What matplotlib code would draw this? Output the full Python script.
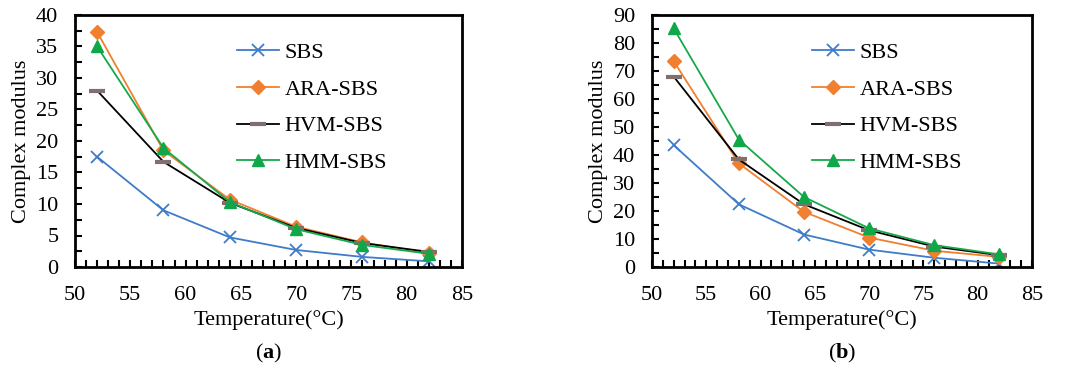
import matplotlib
matplotlib.use("Agg")
import matplotlib.pyplot as plt
from matplotlib.ticker import MultipleLocator

plt.rcParams['font.family'] = ['Liberation Serif', 'DejaVu Serif']
plt.rcParams['mathtext.fontset'] = 'custom'
plt.rcParams['mathtext.bf'] = 'Liberation Serif:bold'
plt.rcParams['mathtext.rm'] = 'Liberation Serif'

temperature = [52, 58, 64, 70, 76, 82]
series_names = ["SBS", "ARA-SBS", "HVM-SBS", "HMM-SBS"]

# panel (a)
a_sbs = [17.5, 9.0, 4.7, 2.7, 1.6, 0.9]
a_ara = [37.3, 18.5, 10.7, 6.4, 3.9, 2.2]
a_hvm = [28.0, 16.7, 10.2, 6.2, 3.8, 2.4]
a_hmm = [35.0, 18.9, 10.3, 6.0, 3.5, 2.1]

# panel (b)
b_sbs = [43.5, 22.4, 11.6, 6.2, 3.3, 1.2]
b_ara = [73.5, 37.0, 19.7, 10.5, 5.8, 3.6]
b_hvm = [68.0, 38.4, 22.4, 13.1, 7.3, 4.2]
b_hmm = [85.2, 45.5, 25.0, 13.8, 7.8, 4.5]

styles = [
    dict(color='#3F7CC8', marker='x', markersize=9, mew=1.3, mec='#3F7CC8'),
    dict(color='#F08030', marker='D', markersize=7, mfc='#F08030', mec='#F08030'),
    dict(color='black', marker='_', markersize=11, mew=3, mec='#7F6F6F'),
    dict(color='#16A84A', marker='^', markersize=9, mfc='#0FA848', mec='#0FA848'),
]

FS = 16

fig = plt.figure(figsize=(10.69, 3.68), dpi=100)
ax_a = fig.add_axes([75 / 1069, 1 - 267 / 368, 387 / 1069, 252 / 368])
ax_b = fig.add_axes([652 / 1069, 1 - 267 / 368, 380 / 1069, 252 / 368])


def draw(ax, data, ymax, ymajor, yminor, leg_anchor):
    for vals, name, st in zip(data, series_names, styles):
        ax.plot(temperature, vals, linewidth=1.3, label=name, **st)
    ax.set_xlim(50, 85)
    ax.set_ylim(0, ymax)
    ax.xaxis.set_major_locator(MultipleLocator(5))
    ax.xaxis.set_minor_locator(MultipleLocator(1))
    ax.yaxis.set_major_locator(MultipleLocator(ymajor))
    ax.yaxis.set_minor_locator(MultipleLocator(yminor))
    ax.tick_params(which='both', direction='in', labelsize=FS, width=1.5,
                   top=False, right=False)
    ax.tick_params(which='major', length=5)
    ax.tick_params(which='minor', length=5)
    ax.tick_params(axis='x', which='major', pad=14)
    ax.tick_params(axis='y', which='major', pad=12)
    for sp in ax.spines.values():
        sp.set_linewidth(2)
    ax.set_xlabel("Temperature(°C)", fontsize=FS, labelpad=3)
    ax.set_ylabel("Complex modulus", fontsize=FS, labelpad=4)
    ax.legend(loc='upper left', bbox_to_anchor=leg_anchor, frameon=False,
              fontsize=FS, handlelength=1.9, handletextpad=0.25,
              labelspacing=0.72, borderaxespad=0, borderpad=0)


draw(ax_a, [a_sbs, a_ara, a_hvm, a_hmm], 40, 5, 2.5, (0.418, 0.89))
draw(ax_b, [b_sbs, b_ara, b_hvm, b_hmm], 90, 10, 5, (0.42, 0.89))

fig.text((75 + 387 / 2) / 1069, 1 - 353 / 368, r"($\mathbf{a}$)",
         ha='center', va='center', fontsize=FS)
fig.text((652 + 380 / 2) / 1069, 1 - 353 / 368, r"($\mathbf{b}$)",
         ha='center', va='center', fontsize=FS)

fig.savefig("out.png", dpi=100)
